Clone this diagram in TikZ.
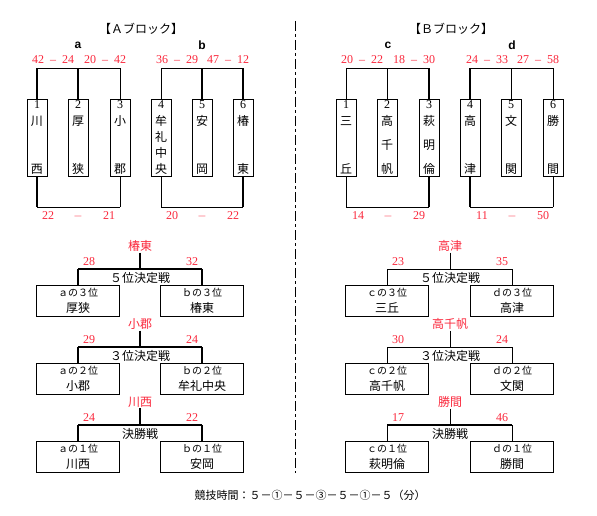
\documentclass[tikz,border=0pt]{standalone}
\usepackage{fontspec}
\setmainfont{Liberation Serif}
\newfontfamily\jp{Noto Sans CJK JP}
\newfontfamily\lsans{Liberation Sans}
\usetikzlibrary{positioning, calc}
\definecolor{akaten}{RGB}{250,40,60}
\newcommand{\tatemei}[2]{\parbox[t][73pt][s]{20pt}{\centering #1\par\vspace{3pt}\jp #2}}

\begin{document}
\begin{tikzpicture}[x=1pt, y=-1pt, font=\fontsize{12}{14}\selectfont,
    senbox/.style={draw, line width=0.8pt, minimum width=20pt, minimum height=77pt, inner sep=0pt},
    junibox/.style={draw, line width=0.8pt, minimum width=83pt, minimum height=31pt, inner sep=0pt,
        align=center, font=\jp\fontsize{12}{16}\selectfont},
    jptext/.style={font=\jp\fontsize{12}{14}\selectfont},
    kachi/.style={text=akaten, inner sep=1pt, font=\jp\fontsize{12}{14}\selectfont},
    ten/.style={text=akaten, inner sep=1pt},
    futo/.style={line width=1.8pt},
    hoso/.style={line width=0.8pt},
    kugiri/.style={line width=0.9pt, dash pattern=on 10pt off 3pt on 3pt off 3pt}]
        \useasboundingbox (0,0) rectangle (597,516);
        \coordinate (kTop) at (295,21);
        \coordinate (kBot) at (295,473);
        \draw[kugiri] (kTop) -- (kBot);

        \node[jptext] (titleA) at (141,29) {【Ａブロック】};
        \node[jptext] (titleB) at (451,29) {【Ｂブロック】};
        \foreach \g/\x in {a/78, b/202, c/388, d/512}
        {
            \node[font=\lsans\bfseries\fontsize{12}{14}\selectfont] (lbl-\g) at (\x,45) {\g};
            \coordinate (\g T) at (\x,68);
            \coordinate (\g B) at (\x,207);
        }
        \foreach \n/\x/\s in {
            sa1/53/{42\enspace--\enspace24}, sa2/105/{20\enspace--\enspace42},
            sb1/177/{36\enspace--\enspace29}, sb2/228/{47\enspace--\enspace12},
            sc1/362/{20\enspace--\enspace22}, sc2/414/{18\enspace--\enspace30},
            sd1/487/{24\enspace--\enspace33}, sd2/538/{27\enspace--\enspace58}}
        {
            \node[ten] (\n) at (\x,60) {\s};
        }

        \foreach \n/\x/\num/\mei in {
            A1/37/1/{川\vfill 西}, A2/78/2/{厚\vfill 狭}, A3/120/3/{小\vfill 郡},
            A4/161/4/{牟\vfill 礼\vfill 中\vfill 央}, A5/202/5/{安\vfill 岡}, A6/243/6/{椿\vfill 東},
            B1/346/1/{三\vfill 丘}, B2/387/2/{高\vfill 千\vfill 帆}, B3/429/3/{萩\vfill 明\vfill 倫},
            B4/470/4/{高\vfill 津}, B5/511/5/{文\vfill 関}, B6/553/6/{勝\vfill 間}}
        {
            \node[senbox] (\n) at (\x,137.5) {\tatemei{\num}{\mei}};
        }
        \foreach \n/\g/\w in {A1/aT/futo, A2/aT/futo, A3/aT/hoso, A4/bT/hoso, A5/bT/futo, A6/bT/futo,
            B1/cT/hoso, B2/cT/hoso, B3/cT/futo, B4/dT/futo, B5/dT/hoso, B6/dT/hoso}
            \draw[\w] (\n.north) -- (\n.north |- \g);
        \foreach \n/\g/\w in {A1/aB/futo, A3/aB/hoso, A4/bB/hoso, A6/bB/futo,
            B1/cB/hoso, B3/cB/futo, B4/dB/futo, B6/dB/hoso}
            \draw[\w] (\n.south) -- (\n.south |- \g);
        \foreach \l/\r/\g in {A1/A3/a, A4/A6/b, B1/B3/c, B4/B6/d}
        {
            \draw[hoso] (\l.north |- \g T) -- (\r.north |- \g T);
            \draw[hoso] (\l.south |- \g B) -- (\r.south |- \g B);
        }
        \foreach \g/\x/\s/\t in {a/78/22/21, b/202/20/22, c/388/14/29, d/512/11/50}
        {
            \node[ten] (\g-s1) at (\x-30,216) {\s};
            \node[ten] (\g-s0) at (\x,216) {$-$};
            \node[ten] (\g-s2) at (\x+31,216) {\t};
        }

        \foreach \m/\cx/\lx/\rx/\h/\ttl/\win/\ls/\rs/\lj/\lt/\rj/\rt/\hw/\vw in {
            A5/140/78/202/269/５位決定戦/椿東/28/32/ａの３位/厚狭/ｂの３位/椿東/futo/futo,
            A3/140/78/202/347/３位決定戦/小郡/29/24/ａの２位/小郡/ｂの２位/牟礼中央/futo/futo,
            A1/140/78/202/425/決勝戦/川西/24/22/ａの１位/川西/ｂの１位/安岡/futo/futo,
            B5/450/387/512/269/５位決定戦/高津/23/35/ｃの３位/三丘/ｄの３位/高津/hoso/hoso,
            B3/450/387/512/347/３位決定戦/高千帆/30/24/ｃの２位/高千帆/ｄの２位/文関/hoso/hoso,
            B1/450/387/512/425/決勝戦/勝間/17/46/ｃの１位/萩明倫/ｄの１位/勝間/futo/hoso}
        {
            \node[kachi] (\m-win) at (\cx,\h-23) {\win};
            \coordinate (\m-mid) at (\cx,\h);
            \node[jptext] (\m-ttl) at (\cx,\h+9) {\ttl};
            \node[ten] (\m-ls) at (\lx+11,\h-7) {\ls};
            \node[ten] (\m-rs) at (\rx-10,\h-7) {\rs};
            \node[junibox] (\m-l) at (\lx,\h+31.5) {{\fontsize{10}{12}\selectfont \lj}\\\lt};
            \node[junibox] (\m-r) at (\rx,\h+31.5) {{\fontsize{10}{12}\selectfont \rj}\\\rt};
            \draw[\vw] (\m-win) -- (\m-mid);
            \draw[\hw] (\m-l.north |- \m-mid) -- (\m-r.north |- \m-mid);
            \draw[\vw] (\m-l.north) -- (\m-l.north |- \m-mid);
            \draw[\vw] (\m-r.north) -- (\m-r.north |- \m-mid);
        }

        \node[jptext, font=\jp\fontsize{11}{13}\selectfont] (jikan) at (310,495) {競技時間：５－①－５－③－５－①－５（分）};
    \end{tikzpicture}
\end{document}
